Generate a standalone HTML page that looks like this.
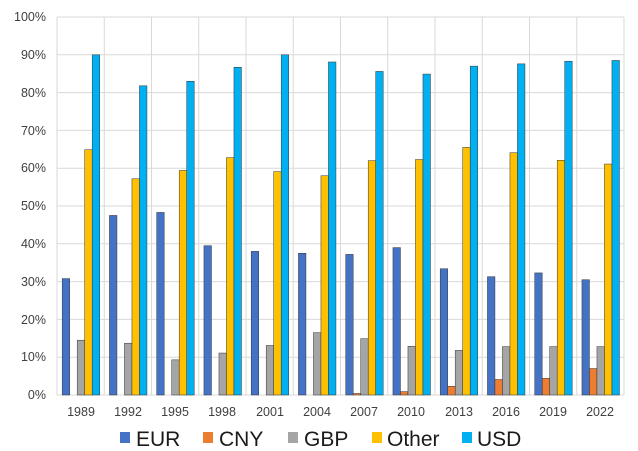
<!DOCTYPE html>
<html><head><meta charset="utf-8"><style>
html,body{margin:0;padding:0;background:#fff;}
svg{display:block;font-family:"Liberation Sans",Arial,sans-serif;}
</style></head><body>
<svg id="c" width="638" height="451" viewBox="0 0 638 451">
<g stroke="#d9d9d9" stroke-width="1" id="grid"></g>
<g fill="#404040" font-size="12.5" text-anchor="end">
<text x="46" y="21">100%</text><text x="46" y="59">90%</text><text x="46" y="97">80%</text>
<text x="46" y="135">70%</text><text x="46" y="172">60%</text><text x="46" y="210">50%</text>
<text x="46" y="248">40%</text><text x="46" y="286">30%</text><text x="46" y="324">20%</text>
<text x="46" y="361">10%</text><text x="46" y="399">0%</text>
</g>
<g fill="#404040" font-size="12.5" text-anchor="middle">
<text x="81" y="416">1989</text><text x="128" y="416">1992</text><text x="175" y="416">1995</text>
<text x="222" y="416">1998</text><text x="270" y="416">2001</text><text x="317" y="416">2004</text>
<text x="364" y="416">2007</text><text x="411" y="416">2010</text><text x="459" y="416">2013</text>
<text x="506" y="416">2016</text><text x="553" y="416">2019</text><text x="600" y="416">2022</text>
</g>
<g id="bars"></g>
<g font-size="21" fill="#1a1a1a">
<rect x="120" y="432" width="10" height="11" fill="#4472c4"/><text x="136" y="446">EUR</text>
<rect x="203" y="432" width="10" height="11" fill="#ed7d31"/><text x="219" y="446">CNY</text>
<rect x="288" y="432" width="10" height="11" fill="#a5a5a5"/><text x="304" y="446">GBP</text>
<rect x="372" y="432" width="10" height="11" fill="#ffc000"/><text x="387" y="446">Other</text>
<rect x="462" y="432" width="10" height="11" fill="#00b0f0"/><text x="477" y="446">USD</text>
</g>
</svg>
<script>
var L=57,R=624,T=17,B=395,gw=(R-L)/12,ns="http://www.w3.org/2000/svg";
var g=document.getElementById('grid'),b=document.getElementById('bars');
function el(p,t,a){var e=document.createElementNS(ns,t);for(var k in a)e.setAttribute(k,a[k]);p.appendChild(e);}
for(var i=0;i<=10;i++){var y=B-(B-T)*i/10;el(g,'line',{x1:L,x2:R,y1:y,y2:y});}
for(var i=0;i<=12;i++){var x=L+gw*i;el(g,'line',{x1:x,x2:x,y1:T,y2:B});}
var d=[[30.8,47.5,48.3,39.5,38,37.5,37.2,39,33.4,31.3,32.3,30.5],
[0,0,0,0,0,0,0.4,0.9,2.3,4.1,4.4,7],
[14.5,13.7,9.3,11.1,13.1,16.5,14.9,12.9,11.8,12.8,12.8,12.8],
[64.9,57.2,59.4,62.8,59.1,58,62,62.3,65.5,64.1,62.1,61.1],
[90,81.8,83,86.7,90,88.1,85.6,84.9,87,87.6,88.3,88.5]];
var c=["#4472c4","#ed7d31","#a5a5a5","#ffc000","#00b0f0"];
for(var s=0;s<5;s++)for(var i=0;i<12;i++){var v=d[s][i];if(!v)continue;var h=v*(B-T)/100;
el(b,'rect',{x:L+gw*i+5.2+s*7.5,y:B-h,width:7.5,height:h,fill:c[s],stroke:"#333",'stroke-width':0.5});}
</script>
</body></html>
